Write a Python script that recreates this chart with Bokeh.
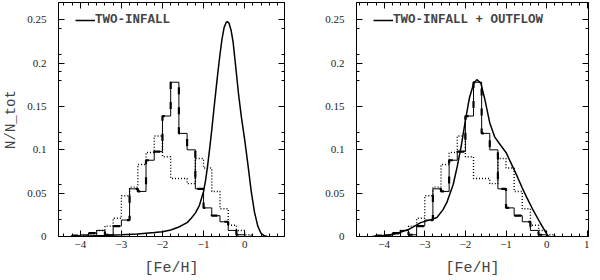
import numpy as np
from bokeh.plotting import figure
from bokeh.layouts import row
from bokeh.models import FixedTicker, LinearAxis, Range1d, Legend, LegendItem
from bokeh.embed import file_html
from bokeh.resources import INLINE

# ---------------- data ----------------
# histogram bin edges ([Fe/H]), shared by both observed distributions
bin_edges = [-4.2, -4.0, -3.8, -3.6, -3.4, -3.2, -3.0, -2.8, -2.6, -2.4, -2.2,
             -2.0, -1.8, -1.6, -1.4, -1.2, -1.0, -0.8, -0.6, -0.4, -0.2, 0.0, 0.2]
# long-dashed observed histogram (N/N_tot per bin)
obs_dashed = [0.001, 0.002, 0.004, 0.007, 0.002, 0.012, 0.019, 0.055, 0.052, 0.088,
              0.098, 0.139, 0.178, 0.119, 0.100, 0.055, 0.033, 0.024, 0.017, 0.007,
              0.002, 0.0]
# dotted observed histogram
obs_dotted = [0.0, 0.001, 0.003, 0.007, 0.012, 0.021, 0.047, 0.057, 0.083, 0.097,
              0.116, 0.092, 0.067, 0.067, 0.061, 0.090, 0.079, 0.052, 0.032, 0.013,
              0.007, 0.002]

# model: TWO-INFALL (left panel)
twoinfall_feh = [-4.2, -3.8, -3.4, -3.0, -2.6, -2.2, -2.0, -1.8, -1.6, -1.4, -1.3, -1.2,
                 -1.1, -1.0, -0.95, -0.9, -0.85, -0.8, -0.75, -0.7, -0.65, -0.6, -0.55,
                 -0.5, -0.45, -0.42, -0.38, -0.33, -0.28, -0.22, -0.15, -0.08, 0.0,
                 0.08, 0.16, 0.24, 0.32, 0.4, 0.48, 0.55]
twoinfall_n = [0.0, 0.0006, 0.0012, 0.002, 0.003, 0.0045, 0.0055, 0.0075, 0.011, 0.016,
               0.021, 0.027, 0.036, 0.052, 0.065, 0.082, 0.102, 0.123, 0.146, 0.168,
               0.19, 0.21, 0.228, 0.241, 0.247, 0.248, 0.246, 0.238, 0.224, 0.197,
               0.165, 0.138, 0.112, 0.083, 0.052, 0.028, 0.012, 0.0035, 0.0008, 0.0]

# model: TWO-INFALL + OUTFLOW (right panel)
outflow_feh = [-4.3, -3.9, -3.7, -3.4, -3.1, -2.85, -2.7, -2.55, -2.45, -2.3, -2.2, -2.1,
               -2.0, -1.9, -1.8, -1.72, -1.62, -1.52, -1.4, -1.28, -1.16, -1.0, -0.9,
               -0.75, -0.6, -0.5, -0.35, -0.15, 0.0, 0.05]
outflow_n = [0.0, 0.0015, 0.0035, 0.008, 0.016, 0.0195, 0.022, 0.031, 0.040, 0.060,
             0.081, 0.105, 0.134, 0.160, 0.176, 0.181, 0.177, 0.158, 0.131, 0.115,
             0.107, 0.097, 0.087, 0.072, 0.056, 0.046, 0.032, 0.015, 0.003, 0.0]

# ticks and tick labels
x_major_ticks = [-4, -3, -2, -1, 0, 1]
x_major_labels = ["\u22124", "\u22123", "\u22122", "\u22121", "0", "1"]
x_minor_ticks = [round(v, 1) for v in np.arange(-4.6, 1.2, 0.2)]
y_major_ticks = [0, 0.05, 0.1, 0.15, 0.2, 0.25]
y_major_labels = ["0", "0.05", "0.1", "0.15", "0.2", "0.25"]
y_minor_ticks = [0.02, 0.03, 0.06, 0.11, 0.12, 0.18, 0.19, 0.21, 0.24]

x_label = "[Fe/H]"
y_label = "N/N_tot"


def step_path(edges, vals):
    e = np.asarray(edges, dtype=float)
    v = np.asarray(vals, dtype=float)
    xs = np.repeat(e, 2)
    ys = np.concatenate([[0.0], np.repeat(v, 2), [0.0]])
    return xs, ys


def style_axis(ax, ticks, labels, minor, show_labels):
    ax.ticker = FixedTicker(ticks=ticks, minor_ticks=minor)
    ax.major_tick_in = 6
    ax.major_tick_out = 0
    ax.minor_tick_in = 3
    ax.minor_tick_out = 0
    ax.axis_line_color = "black"
    ax.major_tick_line_color = "black"
    ax.minor_tick_line_color = "black"
    if show_labels:
        ax.major_label_overrides = {t: l for t, l in zip(ticks, labels)}
        ax.major_label_text_font = "Liberation Serif"
        ax.major_label_text_color = "#222222"
        ax.major_label_text_font_size = "11px"
    else:
        ax.major_label_text_color = None
        ax.major_label_standoff = 0


def make_panel(xr, frame_w, border_l, border_r, ylab, mx, my, legend_text):
    p = figure(x_range=Range1d(*xr), y_range=Range1d(0, 0.27),
               frame_width=frame_w, frame_height=234,
               min_border_left=border_l, min_border_right=border_r,
               min_border_top=2, min_border_bottom=40,
               output_backend="svg", toolbar_location=None,
               background_fill_color="white", border_fill_color="white",
               outline_line_color="black")
    p.grid.visible = False

    bx = p.below[0]
    style_axis(bx, x_major_ticks, x_major_labels, x_minor_ticks, True)
    bx.major_label_standoff = 4
    bx.axis_label = x_label
    bx.axis_label_text_font = "Liberation Mono"
    bx.axis_label_text_font_size = "15px"
    bx.axis_label_text_font_style = "normal"
    bx.axis_label_standoff = 9

    ly = p.left[0]
    style_axis(ly, y_major_ticks, y_major_labels, y_minor_ticks, True)
    ly.major_label_standoff = 12
    if ylab:
        ly.axis_label = ylab
        ly.axis_label_text_font = "Liberation Mono"
        ly.axis_label_text_font_size = "14px"
        ly.axis_label_text_font_style = "normal"
        ly.axis_label_standoff = 5

    top = LinearAxis()
    style_axis(top, x_major_ticks, x_major_labels, x_minor_ticks, False)
    p.add_layout(top, "above")
    rgt = LinearAxis()
    style_axis(rgt, y_major_ticks, y_major_labels, y_minor_ticks, False)
    p.add_layout(rgt, "right")

    hx, hy = step_path(bin_edges, obs_dotted)
    p.line(hx, hy, line_color="black", line_width=1.4, line_dash="1 2")
    dx, dy = step_path(bin_edges, obs_dashed)
    p.line(dx, dy, line_color="black", line_width=1)
    p.line(dx, dy, line_color="black", line_width=2.2, line_dash="7 13")

    r = p.line(mx, my, line_color="black", line_width=1.5)

    leg = Legend(items=[LegendItem(label=legend_text, renderers=[r])],
                 location=(17, 209), margin=0, padding=0,
                 glyph_width=20, glyph_height=14, label_standoff=0,
                 border_line_color=None, background_fill_alpha=0,
                 label_text_font="Liberation Mono", label_text_font_size="12.5px",
                 label_text_font_style="bold")
    p.add_layout(leg)
    return p


p1 = make_panel((-4.53, 0.97), 226, 52, 10, y_label, twoinfall_feh, twoinfall_n,
                "TWO-INFALL")
p2 = make_panel((-4.68, 1.03), 232, 62, 1, None, outflow_feh, outflow_n,
                "TWO-INFALL + OUTFLOW")

layout = row(p1, p2)
open("out.html", "w").write(file_html(layout, INLINE))
